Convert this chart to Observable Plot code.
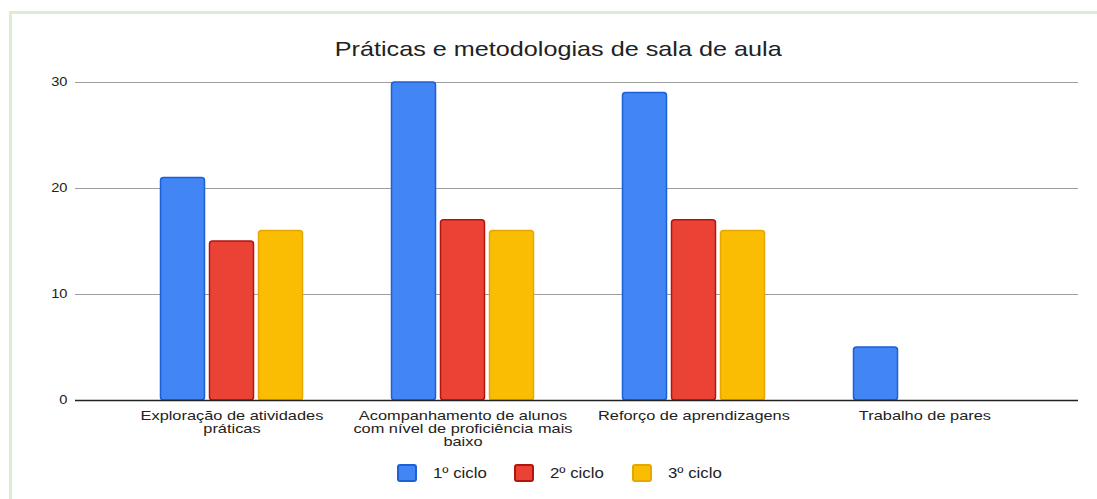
<!DOCTYPE html>
<html>
<head>
<meta charset="utf-8">
<script src="https://cdn.jsdelivr.net/npm/d3@7"></script>
<script src="https://cdn.jsdelivr.net/npm/@observablehq/plot@0.6"></script>
<style>
  html, body { margin: 0; padding: 0; background: #fff; }
  #wrap { position: relative; width: 1097px; height: 499px; overflow: hidden; font-family: "Liberation Sans", Arial, sans-serif; }
  #frame { position: absolute; left: 9px; top: 11px; width: 1100px; height: 500px; border-left: 3px solid #dcedd5; border-top: 3px solid #dcedd5; box-sizing: border-box; }
  #title { position: absolute; left: 0; width: 1116px; top: 37px; text-align: center; font-size: 21px; line-height: 24px; color: #222; }
  #title span { display: inline-block; transform: scaleX(1.2); transform-origin: center; }
  #chart { position: absolute; left: 0; top: 0; }
  #legend { position: absolute; top: 464px; left: 0; width: 1097px; height: 20px; }
  .item { position: absolute; top: 0; display: flex; align-items: center; font-size: 14px; color: #222; }
  .item span { display: inline-block; transform: scaleX(1.2); transform-origin: left center; }
  .sw { width: 20px; height: 18px; border-radius: 3px; box-sizing: border-box; border: 2px solid; margin-right: 16px; }
</style>
</head>
<body>
<div id="wrap">
  <div id="frame"></div>
  <div id="chart"></div>
  <div id="title"><span>Práticas e metodologias de sala de aula</span></div>
  <div id="legend"></div>
</div>
<script>
const categories = [
  "Exploração de atividades práticas",
  "Acompanhamento de alunos com nível de proficiência mais baixo",
  "Reforço de aprendizagens",
  "Trabalho de pares"
];
const categoryLines = [
  ["Exploração de atividades", "práticas"],
  ["Acompanhamento de alunos", "com nível de proficiência mais", "baixo"],
  ["Reforço de aprendizagens"],
  ["Trabalho de pares"]
];
const seriesNames = ["1º ciclo", "2º ciclo", "3º ciclo"];
const ciclo1 = [21, 30, 29, 5];
const ciclo2 = [15, 17, 17, 0];
const ciclo3 = [16, 16, 16, 0];
const yTicks = [0, 10, 20, 30];

const fills = ["#4285f4", "#ea4335", "#fbbc04"];
const strokes = ["#1c5fd6", "#b3140f", "#e4a800"];
const seriesValues = [ciclo1, ciclo2, ciclo3];

const rows = [];
seriesValues.forEach((vals, s) => vals.forEach((v, i) => rows.push({cat: categories[i], series: seriesNames[s], value: v})));

const barW = 44, step = 49, band = 231;
const inset = (band - barW) / 2;

const marks = [
  Plot.ruleY(yTicks.filter(d => d > 0), {stroke: "#9e9e9e", strokeWidth: 1.2}),
];
seriesNames.forEach((name, s) => {
  marks.push(Plot.barY(rows.filter(r => r.series === name && r.value > 0), {
    x: "cat", y: "value", fill: fills[s], stroke: strokes[s], strokeWidth: 1.5,
    insetLeft: inset, insetRight: inset, dx: (s - 1) * step, rx: 3
  }));
});
marks.push(Plot.ruleY([0], {stroke: "#222", strokeWidth: 1.6}));
marks.push(Plot.axisY(yTicks, {tickSize: 0, tickPadding: 8, fontSize: 12, fill: "#222", label: null}));
marks.push(Plot.text(categories, {
  x: d => d, frameAnchor: "bottom", dy: 10, lineAnchor: "top",
  text: d => categoryLines[categories.indexOf(d)].join("\n"),
  fontSize: 13, fill: "#222", lineHeight: 1.0
}));

const chart = Plot.plot({
  width: 1097,
  height: 499,
  marginLeft: 75,
  marginRight: 19,
  marginTop: 82,
  marginBottom: 99,
  style: {fontFamily: "'Liberation Sans', Arial, sans-serif", background: "transparent", overflow: "visible"},
  x: {domain: categories, range: [115.5, 1039.5], padding: 0, axis: null},
  y: {domain: [0, 30], axis: null},
  marks
});
document.getElementById("chart").appendChild(chart);

// stretch text horizontally to match the reference's wide lettering
d3.select(chart).selectAll("text").each(function() {
  const g = this.closest("g[aria-label]");
  const lbl = g ? g.getAttribute("aria-label") : "";
  const s = lbl && lbl.indexOf("tick") >= 0 ? 1.22 : 1.26;
  const bb = this.getBBox();
  const anchor = window.getComputedStyle(this).textAnchor;
  const cx = anchor === "middle" ? bb.x + bb.width / 2 : anchor === "end" ? bb.x + bb.width : bb.x;
  const t = this.getAttribute("transform") || "";
  this.setAttribute("transform", `${t} translate(${cx},0) scale(${s},1) translate(${-cx},0)`);
});

const legend = document.getElementById("legend");
const lefts = [397, 514, 632];
seriesNames.forEach((name, s) => {
  const it = document.createElement("div");
  it.className = "item";
  it.style.left = lefts[s] + "px";
  const sw = document.createElement("div");
  sw.className = "sw";
  sw.style.background = fills[s];
  sw.style.borderColor = strokes[s];
  it.appendChild(sw);
  const t = document.createElement("span");
  t.textContent = name;
  it.appendChild(t);
  legend.appendChild(it);
});
</script>
</body>
</html>
